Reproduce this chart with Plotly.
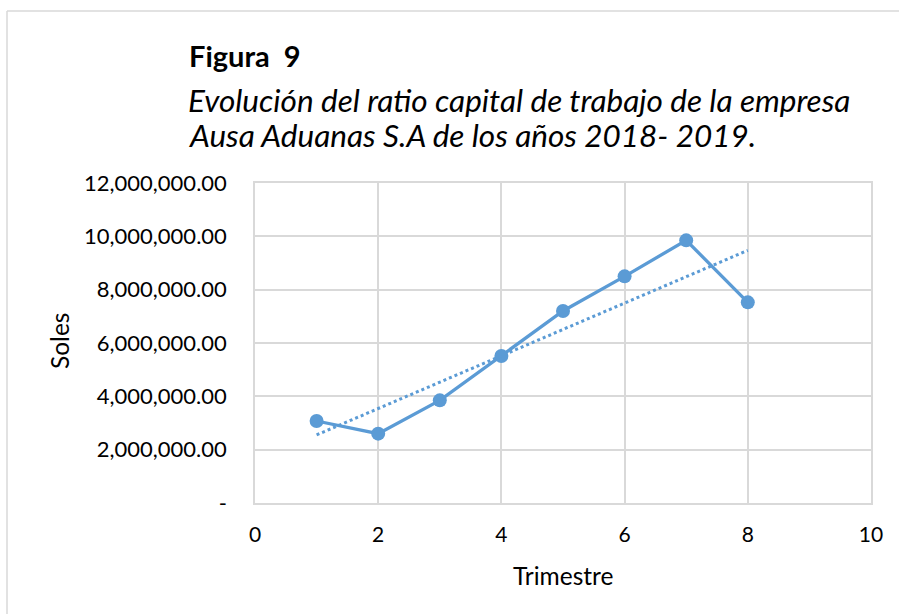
import numpy as np
import plotly.graph_objects as go

trimestre = [1, 2, 3, 4, 5, 6, 7, 8]
soles = [3075000, 2600000, 3850000, 5510000, 7200000, 8500000, 9850000, 7525000]

y_tickvals = [0, 2000000, 4000000, 6000000, 8000000, 10000000, 12000000]
y_ticktext = ["-", "2,000,000.00", "4,000,000.00", "6,000,000.00", "8,000,000.00",
              "10,000,000.00", "12,000,000.00"]
x_tickvals = [0, 2, 4, 6, 8, 10]

title_main = "Figura  9"
title_line1 = "Evolución del ratio capital de trabajo de la empresa"
title_line2 = "Ausa Aduanas S.A de los años 2018- 2019."
x_title = "Trimestre"
y_title = "Soles"

color = "#5B9BD5"
grid = "#D9D9D9"
font = "Lato"

# linear trendline (least squares, as in the source spreadsheet)
slope, intercept = np.polyfit(trimestre, soles, 1)
trend_x = [trimestre[0], trimestre[-1]]
trend_y = [slope * x + intercept for x in trend_x]

fig = go.Figure()
fig.add_trace(go.Scatter(x=trimestre, y=soles, mode="lines+markers",
                         line=dict(color=color, width=3.3),
                         marker=dict(color=color, size=14),
                         showlegend=False))
fig.add_trace(go.Scatter(x=trend_x, y=trend_y, mode="lines",
                         line=dict(color=color, width=3, dash="dot"),
                         showlegend=False))

L, R, T, B = 255, 871, 183, 503
W, H = 899, 614


def px(x):
    return (x - L) / (R - L)


def py(y):
    return (B - y) / (B - T)


fig.update_layout(
    width=W, height=H,
    margin=dict(l=L, r=W - R, t=T, b=H - B, pad=0),
    paper_bgcolor="white", plot_bgcolor="white",
    font=dict(family=font, color="#000000", size=21),
    xaxis=dict(range=[0, 10], tickvals=x_tickvals, showgrid=True, gridcolor=grid,
               gridwidth=1.5, zeroline=False, showline=True, linecolor=grid,
               linewidth=1.5, mirror=True, ticks="outside", ticklen=12,
               tickcolor="rgba(0,0,0,0)", tickfont=dict(size=21, family=font)),
    yaxis=dict(range=[0, 12000000], tickvals=y_tickvals, ticktext=y_ticktext,
               showgrid=True, gridcolor=grid, gridwidth=1.5, zeroline=False,
               showline=True, linecolor=grid, linewidth=1.5, mirror=True,
               ticks="outside", ticklen=22, tickcolor="rgba(0,0,0,0)",
               tickfont=dict(size=22, family=font)),
)

ann = [
    dict(text="<b>" + title_main + "</b>", x=px(187), y=py(55), size=29),
    dict(text="<i>" + title_line1 + "</i>", x=px(186), y=py(100), size=31.5),
    dict(text="<i>" + title_line2 + "</i>", x=px(186), y=py(135), size=31.5),
]
for a in ann:
    fig.add_annotation(text=a["text"], x=a["x"], y=a["y"], xref="paper", yref="paper",
                       xanchor="left", yanchor="middle", showarrow=False,
                       font=dict(size=a["size"], family=font, color="#000000"))

fig.add_annotation(text=x_title, x=px(563), y=py(575), xref="paper", yref="paper",
                   xanchor="center", yanchor="middle", showarrow=False,
                   font=dict(size=24.5, family=font, color="#000000"))
fig.add_annotation(text=y_title, x=px(59), y=py(341), xref="paper", yref="paper",
                   xanchor="center", yanchor="middle", showarrow=False, textangle=-90,
                   font=dict(size=24.5, family=font, color="#000000"))

# outer chart border
fig.add_shape(type="line", xref="paper", yref="paper", x0=px(7), x1=px(905),
              y0=py(11), y1=py(11), line=dict(color=grid, width=1.5))
fig.add_shape(type="line", xref="paper", yref="paper", x0=px(7), x1=px(7),
              y0=py(11), y1=py(620), line=dict(color=grid, width=1.5))

fig.write_html("out.html", config={"displayModeBar": False},
               post_script="document.body.style.margin='0px';document.body.style.overflow='hidden';")
